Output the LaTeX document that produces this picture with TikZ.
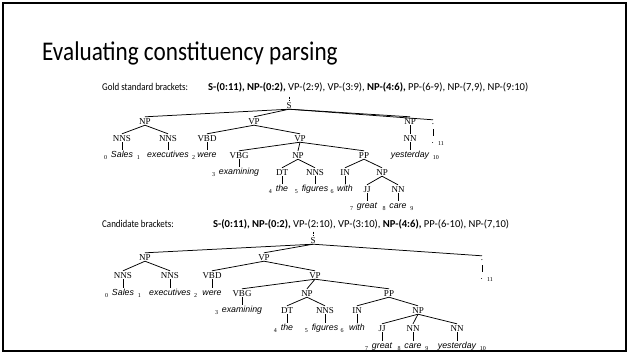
\documentclass[tikz,border=0pt]{standalone}
\usepackage{fontspec}
\setmainfont[FakeStretch=0.86]{Carlito}
\newfontfamily\brkfont{Carlito}
\newfontfamily\catfont{Liberation Serif}
\newfontfamily\leaffont{Liberation Sans}
\begin{document}
\begin{tikzpicture}[x=1pt,y=-1pt,
  cat/.style={font=\catfont\fontsize{9}{9}\selectfont, inner sep=1pt, text height=6pt, text depth=0pt},
  leaf/.style={font=\leaffont\itshape\fontsize{8.8}{9}\selectfont, inner sep=1pt, text height=6.5pt, text depth=2pt},
  idx/.style={font=\catfont\fontsize{6}{6}\selectfont, inner sep=0.5pt},
  txt/.style={font=\fontsize{10.4}{12}\selectfont, inner sep=0pt},
  brk/.style={font=\brkfont\fontsize{10.6}{12}\selectfont, inner sep=0pt},
  edge/.style={line width=0.75pt},
  tick/.style={line width=1pt},
  roottick/.style={line width=0.7pt, dash pattern=on 2pt off 1.2pt}]
\useasboundingbox (0,0) rectangle (629,354);
\draw[line width=1.6pt] (3,3) rectangle (626,351);
\node[anchor=base west, inner sep=0pt, font=\fontsize{27}{30}\selectfont] (title) at (42,60) {Evaluating constituency parsing};

% ---------- gold ----------
\node[txt, anchor=base west] (gl) at (102,90) {Gold standard brackets:};
\node[brk, anchor=base west] (gb) at (208,90) {\textbf{S-(0:11), NP-(0:2),} VP-(2:9), VP-(3:9), \textbf{NP-(4:6),} PP-(6-9), NP-(7,9), NP-(9:10)};

\node[cat] (gS) at (289,105) {S};
\coordinate (gSt) at (289,96.5);
\node[cat] (gNP) at (145,121) {NP};
\node[cat] (gVP) at (254,121) {VP};
\node[cat] (gNPr) at (410,121) {NP};
\node[cat] (gDot) at (433,121) {.};
\node[cat] (gNNS1) at (122,138) {NNS};
\node[cat] (gNNS2) at (168,138) {NNS};
\node[cat] (gVBD) at (207,138) {VBD};
\node[cat] (gVP2) at (300,138) {VP};
\node[cat] (gNN) at (410,138) {NN};
\node[leaf] (gw0) at (122,155) {Sales};
\node[leaf] (gw1) at (168,155) {executives};
\node[leaf] (gw2) at (207,155) {were};
\node[cat] (gVBG) at (239,155) {VBG};
\node[cat] (gNP2) at (298,155) {NP};
\node[cat] (gPP) at (364,155) {PP};
\node[leaf] (gw9) at (410,155) {yesterday};
\node[leaf] (gw10) at (433,141) {.};
\node[leaf] (gw3) at (239,172) {examining};
\node[cat] (gDT) at (282,172) {DT};
\node[cat] (gNNS3) at (315,172) {NNS};
\node[cat] (gIN) at (345,172) {IN};
\node[cat] (gNP3) at (382,172) {NP};
\node[leaf] (gw4) at (282,189) {the};
\node[leaf] (gw5) at (315,189) {figures};
\node[leaf] (gw6) at (345,189) {with};
\node[cat] (gJJ) at (367,189) {JJ};
\node[cat] (gNN2) at (398,189) {NN};
\node[leaf] (gw7) at (367,206) {great};
\node[leaf] (gw8) at (398,206) {care};

\draw[roottick] (gSt) -- (gS.north);
\foreach \p/\c in {gS/gNP,gS/gVP,gS/gNPr,gNP/gNNS1,gNP/gNNS2,gVP/gVBD,gVP/gVP2,
  gVP2/gVBG,gVP2/gNP2,gVP2/gPP,gNP2/gDT,gNP2/gNNS3,gPP/gIN,gPP/gNP3,gNP3/gJJ,gNP3/gNN2}
  \draw[edge] (\p.south) -- (\c.north);
\draw[edge] (gS.south) -- ([yshift=-3pt]gDot.north);
\foreach \p/\c in {gNPr/gNN,gNNS1/gw0,gNNS2/gw1,gVBD/gw2,gVBG/gw3,gDT/gw4,gNNS3/gw5,gIN/gw6,gJJ/gw7,gNN2/gw8,gNN/gw9}
  \draw[tick] (\p.south) -- (\c.north);
\draw[tick] ([yshift=-4pt]gDot.south) -- (gw10.north);

\node[idx, anchor=base east] (gi0) at ([xshift=-2pt,yshift=-2pt]gw0.base west) {0};
\node[idx, anchor=base west] (gi1) at ([xshift=2pt,yshift=-2pt]gw0.base east) {1};
\node[idx, anchor=base west] (gi2) at ([xshift=1.5pt,yshift=-2pt]gw1.base east) {2};
\node[idx, anchor=base east] (gi3) at ([xshift=-2pt,yshift=-2pt]gw3.base west) {3};
\node[idx, anchor=base east] (gi4) at ([xshift=-2pt,yshift=-2pt]gw4.base west) {4};
\node[idx, anchor=base east] (gi5) at ([xshift=-2pt,yshift=-2pt]gw5.base west) {5};
\node[idx, anchor=base west] (gi6) at ([xshift=0.5pt,yshift=-2pt]gw5.base east) {6};
\node[idx, anchor=base east] (gi7) at ([xshift=-2pt,yshift=-2pt]gw7.base west) {7};
\node[idx, anchor=base east] (gi8) at ([xshift=-2pt,yshift=-2pt]gw8.base west) {8};
\node[idx, anchor=base west] (gi9) at ([xshift=2pt,yshift=-2pt]gw8.base east) {9};
\node[idx, anchor=base west] (gi10) at ([xshift=2pt,yshift=-2pt]gw9.base east) {10};
\node[idx, anchor=base west] (gi11) at ([xshift=2pt,yshift=-2pt]gw10.base east) {11};

% ---------- candidate ----------
\node[txt, anchor=base west] (cl) at (102,227) {Candidate brackets:};
\node[brk, anchor=base west] (cb) at (213,227) {\textbf{S-(0:11), NP-(0:2),} VP-(2:10), VP-(3:10), \textbf{NP-(4:6),} PP-(6-10), NP-(7,10)};

\node[cat] (cS) at (313,240) {S};
\coordinate (cSt) at (313,231.5);
\node[cat] (cNP) at (145,257) {NP};
\node[cat] (cVP) at (264,257) {VP};
\node[cat] (cDot) at (482,257) {.};
\node[cat] (cNNS1) at (123,275) {NNS};
\node[cat] (cNNS2) at (170,275) {NNS};
\node[cat] (cVBD) at (212,275) {VBD};
\node[cat] (cVP2) at (315,275) {VP};
\node[leaf] (cw0) at (123,293) {Sales};
\node[leaf] (cw1) at (170,293) {executives};
\node[leaf] (cw2) at (212,293) {were};
\node[cat] (cVBG) at (242,293) {VBG};
\node[cat] (cNP2) at (307,293) {NP};
\node[cat] (cPP) at (389,293) {PP};
\node[leaf] (cw10) at (482,277) {.};
\node[leaf] (cw3) at (242,310) {examining};
\node[cat] (cDT) at (287,310) {DT};
\node[cat] (cNNS3) at (325,310) {NNS};
\node[cat] (cIN) at (357,310) {IN};
\node[cat] (cNP3) at (418,310) {NP};
\node[leaf] (cw4) at (287,328) {the};
\node[leaf] (cw5) at (325,328) {figures};
\node[leaf] (cw6) at (357,328) {with};
\node[cat] (cJJ) at (382,328) {JJ};
\node[cat] (cNN) at (413,328) {NN};
\node[cat] (cNN2) at (457,328) {NN};
\node[leaf] (cw7) at (382,346) {great};
\node[leaf] (cw8) at (413,346) {care};
\node[leaf] (cw9) at (457,346) {yesterday};

\draw[roottick] (cSt) -- (cS.north);
\foreach \p/\c in {cS/cNP,cS/cVP,cNP/cNNS1,cNP/cNNS2,cVP/cVBD,cVP/cVP2,
  cVP2/cVBG,cVP2/cNP2,cVP2/cPP,cNP2/cDT,cNP2/cNNS3,cPP/cIN,cPP/cNP3,cNP3/cJJ,cNP3/cNN,cNP3/cNN2}
  \draw[edge] (\p.south) -- (\c.north);
\draw[edge] (cS.south) -- ([yshift=-3pt]cDot.north);
\foreach \p/\c in {cNNS1/cw0,cNNS2/cw1,cVBD/cw2,cVBG/cw3,cDT/cw4,cNNS3/cw5,cIN/cw6,cJJ/cw7,cNN/cw8,cNN2/cw9}
  \draw[tick] (\p.south) -- (\c.north);
\draw[tick] ([yshift=-4pt]cDot.south) -- (cw10.north);

\node[idx, anchor=base east] (ci0) at ([xshift=-2pt,yshift=-2pt]cw0.base west) {0};
\node[idx, anchor=base west] (ci1) at ([xshift=2pt,yshift=-2pt]cw0.base east) {1};
\node[idx, anchor=base west] (ci2) at ([xshift=1.5pt,yshift=-2pt]cw1.base east) {2};
\node[idx, anchor=base east] (ci3) at ([xshift=-2pt,yshift=-2pt]cw3.base west) {3};
\node[idx, anchor=base east] (ci4) at ([xshift=-2pt,yshift=-2pt]cw4.base west) {4};
\node[idx, anchor=base east] (ci5) at ([xshift=-2pt,yshift=-2pt]cw5.base west) {5};
\node[idx, anchor=base west] (ci6) at ([xshift=0.5pt,yshift=-2pt]cw5.base east) {6};
\node[idx, anchor=base east] (ci7) at ([xshift=-2pt,yshift=-2pt]cw7.base west) {7};
\node[idx, anchor=base east] (ci8) at ([xshift=-2pt,yshift=-2pt]cw8.base west) {8};
\node[idx, anchor=base west] (ci9) at ([xshift=2pt,yshift=-2pt]cw8.base east) {9};
\node[idx, anchor=base west] (ci10) at ([xshift=2pt,yshift=-2pt]cw9.base east) {10};
\node[idx, anchor=base west] (ci11) at ([xshift=2pt,yshift=-2pt]cw10.base east) {11};
\end{tikzpicture}
\end{document}
